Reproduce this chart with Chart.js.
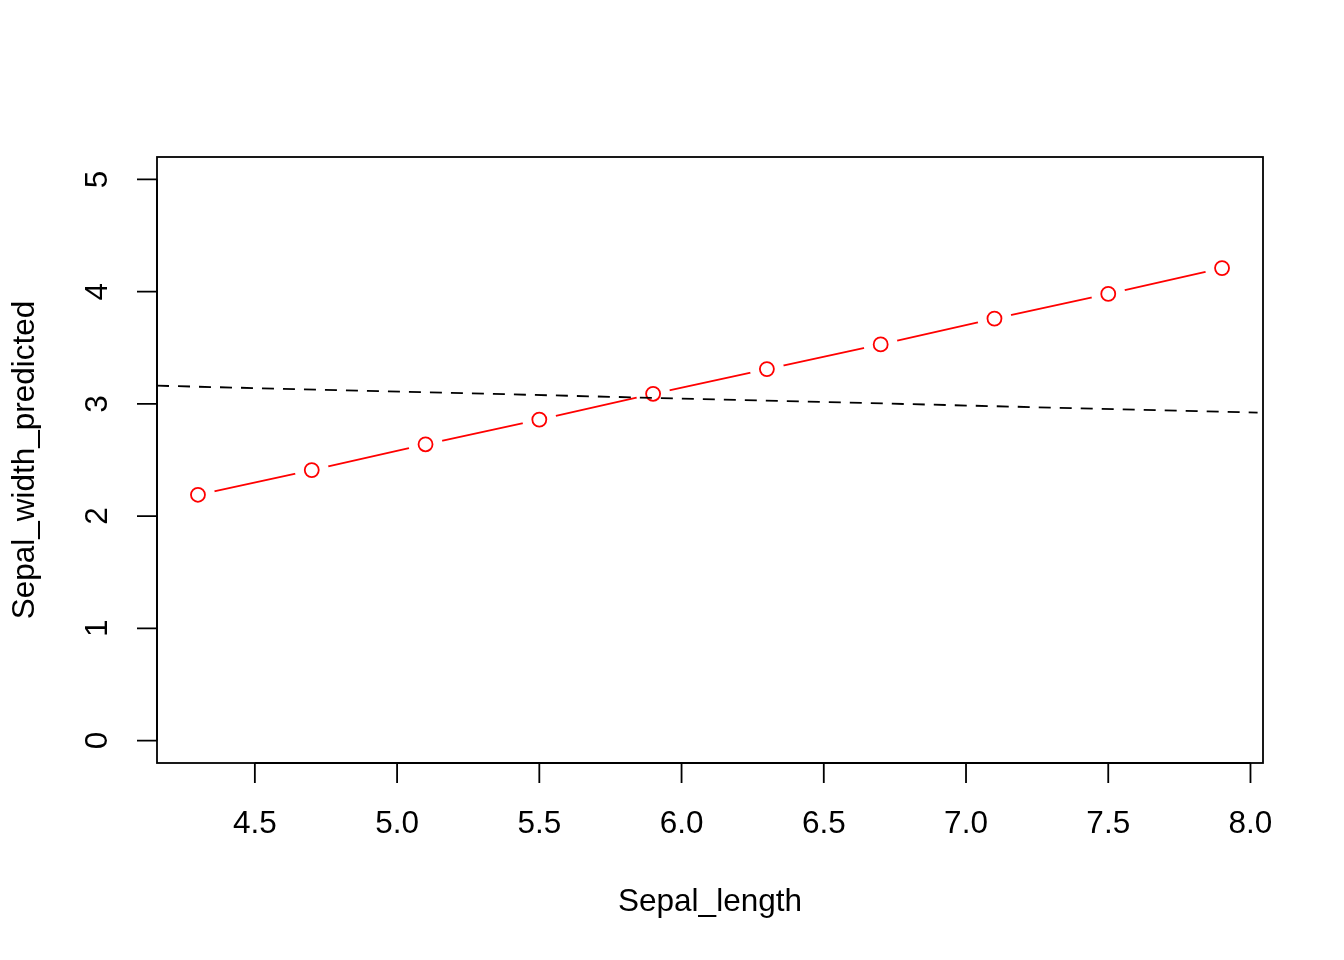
<!DOCTYPE html>
<html>
<head>
<meta charset="utf-8">
<script src="https://cdn.jsdelivr.net/npm/chart.js@4.4.0/dist/chart.umd.min.js"></script>
<style>
html,body{margin:0;padding:0;background:#fff;}
canvas{display:block;}
</style>
</head>
<body>
<canvas id="c" width="1344" height="960"></canvas>
<script>
const sepalLength = [4.3, 4.7, 5.1, 5.5, 5.9, 6.3, 6.7, 7.1, 7.5, 7.9];
const sepalWidthPredicted = [2.19, 2.41, 2.64, 2.86, 3.09, 3.31, 3.53, 3.76, 3.98, 4.21];
const refLineX = [4.156, 8.025];
const refLineY = [3.162, 2.922];
const xTicks = [4.5, 5.0, 5.5, 6.0, 6.5, 7.0, 7.5, 8.0];
const yTicks = [0, 1, 2, 3, 4, 5];
const xTitle = "Sepal_length";
const yTitle = "Sepal_width_predicted";

const pts = sepalLength.map((x, i) => ({x: x, y: sepalWidthPredicted[i]}));
const refPts = refLineX.map((x, i) => ({x: x, y: refLineY[i]}));

const FONT = '31.5px "Liberation Sans", Arial, sans-serif';

const axesPlugin = {
  id: 'rAxes',
  afterDraw(chart) {
    const ctx = chart.ctx;
    const a = chart.chartArea;
    const xs = chart.scales.x, ys = chart.scales.y;
    ctx.save();
    ctx.strokeStyle = '#000';
    ctx.lineWidth = 1.8;
    ctx.strokeRect(a.left, a.top, a.right - a.left, a.bottom - a.top);
    // x axis
    const xa = xs.getPixelForValue(xTicks[0]), xb = xs.getPixelForValue(xTicks[xTicks.length-1]);
    ctx.beginPath();
    ctx.moveTo(xa, a.bottom); ctx.lineTo(xb, a.bottom);
    xTicks.forEach(v => { const p = xs.getPixelForValue(v); ctx.moveTo(p, a.bottom); ctx.lineTo(p, a.bottom + 20); });
    ctx.stroke();
    ctx.fillStyle = '#000';
    ctx.font = FONT;
    ctx.textAlign = 'center';
    ctx.textBaseline = 'middle';
    xTicks.forEach(v => ctx.fillText(v.toFixed(1), xs.getPixelForValue(v), a.bottom + 61));
    // y axis
    const ya = ys.getPixelForValue(yTicks[0]), yb = ys.getPixelForValue(yTicks[yTicks.length-1]);
    ctx.beginPath();
    ctx.moveTo(a.left, ya); ctx.lineTo(a.left, yb);
    yTicks.forEach(v => { const p = ys.getPixelForValue(v); ctx.moveTo(a.left, p); ctx.lineTo(a.left - 20, p); });
    ctx.stroke();
    yTicks.forEach(v => {
      ctx.save();
      ctx.translate(a.left - 59, ys.getPixelForValue(v));
      ctx.rotate(-Math.PI/2);
      ctx.fillText(String(v), 0, 0);
      ctx.restore();
    });
    // titles
    ctx.fillText(xTitle, (a.left + a.right)/2, 902);
    ctx.save();
    ctx.translate(25, (a.top + a.bottom)/2);
    ctx.rotate(-Math.PI/2);
    ctx.fillText(yTitle, 0, 0);
    ctx.restore();
    ctx.restore();
  }
};

new Chart(document.getElementById('c'), {
  type: 'line',
  data: {
    datasets: [
      {
        data: pts, borderColor: '#FF0000', borderWidth: 1.8,
        pointRadius: 17, pointBackgroundColor: '#FFFFFF', pointBorderWidth: 0,
        pointBorderColor: 'rgba(0,0,0,0)', order: 3, tension: 0
      },
      {
        data: pts, showLine: false, pointRadius: 7, pointBorderWidth: 1.8,
        pointBorderColor: '#FF0000', pointBackgroundColor: 'rgba(0,0,0,0)', order: 2
      },
      {
        data: refPts, borderColor: '#000000', borderWidth: 1.8, borderDash: [12, 9],
        pointRadius: 0, order: 1, tension: 0
      }
    ]
  },
  options: {
    responsive: false,
    animation: false,
    devicePixelRatio: 1,
    events: [],
    layout: {padding: {left: 157, right: 81, top: 157, bottom: 197}},
    plugins: {legend: {display: false}, tooltip: {enabled: false}},
    scales: {
      x: {type: 'linear', min: 4.156, max: 8.044, display: false},
      y: {type: 'linear', min: -0.2, max: 5.2, display: false}
    }
  },
  plugins: [axesPlugin]
});
</script>
</body>
</html>
